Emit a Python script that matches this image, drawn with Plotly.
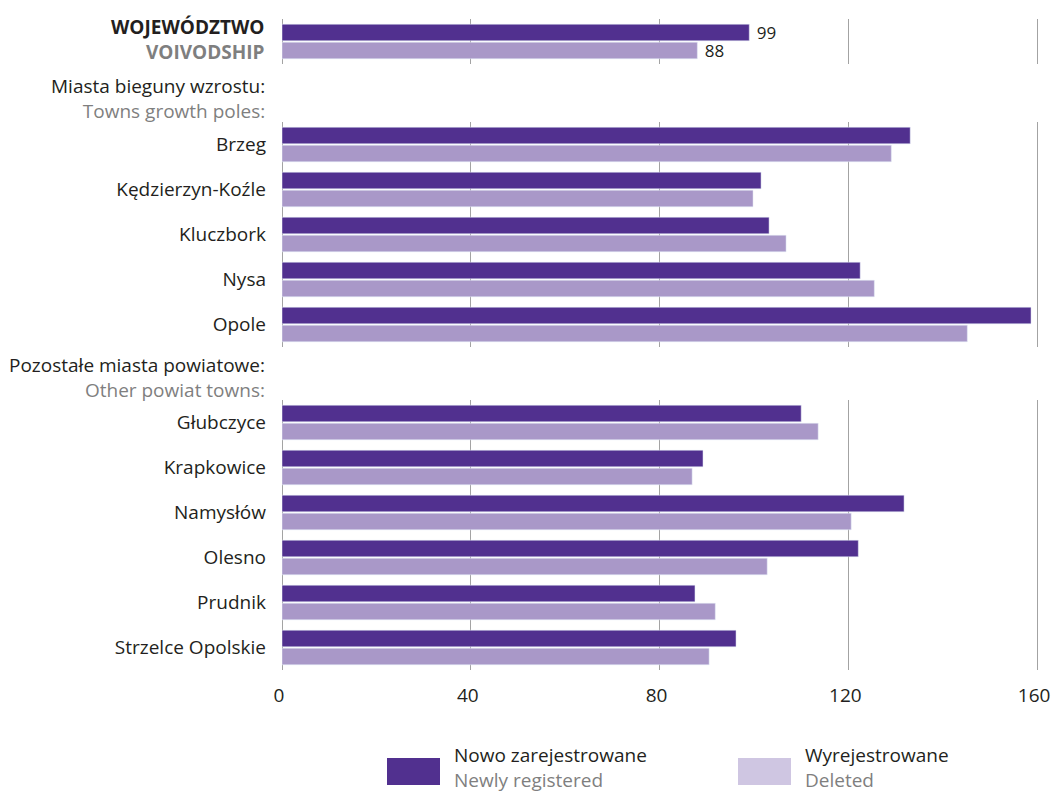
import plotly.graph_objects as go

# Newly registered vs. deleted entities per 1000 population (index values)
voiv_label = "Województwo"
voiv_new = [99]
voiv_del = [88]

poles = ["Brzeg", "Kędzierzyn-Koźle", "Kluczbork", "Nysa", "Opole"]
poles_new = [133.1, 101.5, 103.2, 122.5, 158.7]
poles_del = [129.1, 99.8, 106.8, 125.5, 145.2]

others = ["Głubczyce", "Krapkowice", "Namysłów", "Olesno", "Prudnik", "Strzelce Opolskie"]
others_new = [110.0, 89.2, 131.8, 122.1, 87.5, 96.2]
others_del = [113.6, 86.9, 120.6, 102.8, 91.8, 90.5]

x_ticks = [0, 40, 80, 120, 160]

NEW_COLOR = "#51308f"
DEL_COLOR = "#a998c8"
DEL_LEGEND = "#cfc6e2"
TEXT = "#231f20"
GRAY = "#7f7f7f"
GRID = "#a3a3a3"
FONT = "Open Sans"

W, H = 1051, 792
L, R, T, B = 282, 11, 19, 122
PH = H - T - B
X_MAX = 160.6


def py(px):
    """pixel row -> paper y"""
    return (H - B - px) / PH


def pxx(px):
    """pixel column -> paper x"""
    return (px - L) / (W - L - R)


def two_lines(first, second, bold=False):
    a, b = ("<b>", "</b>") if bold else ("", "")
    return f"{a}{first}{b}<br><span style='color:{GRAY}'>{a}{second}{b}</span>"


fig = go.Figure()

blocks = [
    ([voiv_label], voiv_new, voiv_del, "x", "y"),
    (poles, poles_new, poles_del, "x2", "y2"),
    (others, others_new, others_del, "x3", "y3"),
]
for i, (cats, vnew, vdel, xa, ya) in enumerate(blocks):
    show_text = i == 0
    for vals, col, name in ((vnew, NEW_COLOR, "Nowo zarejestrowane"),
                            (vdel, DEL_COLOR, "Wyrejestrowane")):
        fig.add_trace(go.Bar(
            y=cats, x=vals, orientation="h", marker_color=col,
            xaxis=xa, yaxis=ya, showlegend=False, name=name,
            text=["\u00a0" + f"{v:g}" for v in vals] if show_text else None,
            textposition="outside", cliponaxis=False, constraintext="none",
            textfont=dict(family=FONT, size=17, color=TEXT),
        ))

xaxis_common = dict(
    range=[0, X_MAX], tickvals=x_ticks, showgrid=True, gridcolor=GRID, gridwidth=1,
    zeroline=True, zerolinecolor=GRID, zerolinewidth=1, showline=False,
    fixedrange=True, automargin=False,
)
domains = [
    [py(64), 1.0],
    [py(347), py(122)],
    [0.0, py(400)],
]
yaxis_ticks = dict(showgrid=False, zeroline=False, ticks="", ticklabelstandoff=15,
                   automargin=False,
                   tickfont=dict(family=FONT, size=19, color=TEXT))
fig.update_layout(
    xaxis=dict(**xaxis_common, anchor="y", showticklabels=False),
    xaxis2=dict(**xaxis_common, anchor="y2", matches="x", showticklabels=False),
    xaxis3=dict(**xaxis_common, anchor="y3", matches="x", showticklabels=True,
                ticks="", ticklabelstandoff=12, ticklabelshift=-3,
                ticklabeloverflow="allow",
                tickfont=dict(family=FONT, size=19, color=TEXT)),
    yaxis=dict(domain=domains[0], anchor="x", autorange="reversed",
               showticklabels=False, showgrid=False, zeroline=False),
    yaxis2=dict(domain=domains[1], anchor="x2", autorange="reversed", **yaxis_ticks),
    yaxis3=dict(domain=domains[2], anchor="x3", autorange="reversed", **yaxis_ticks),
    barmode="group", bargap=0.2, bargroupgap=0.08,
    width=W, height=H,
    margin=dict(l=L, r=R, t=T, b=B, pad=0, autoexpand=False),
    plot_bgcolor="white", paper_bgcolor="white",
    font=dict(family=FONT, size=19, color=TEXT),
    showlegend=False,
)

# Left-hand group headers (Polish line, English line in gray)
headers = [
    (two_lines("WOJEWÓDZTWO", "VOIVODSHIP", bold=True), 39),
    (two_lines("Miasta bieguny wzrostu:", "Towns growth poles:"), 99),
    (two_lines("Pozostałe miasta powiatowe:", "Other powiat towns:"), 377),
]
for txt, ypx in headers:
    fig.add_annotation(
        text=txt, xref="paper", yref="paper", x=0, y=py(ypx),
        xshift=-15, xanchor="right", yanchor="middle", align="right",
        showarrow=False, font=dict(family=FONT, size=19, color=TEXT),
    )

# Custom legend below the chart
legend_items = [
    ("Nowo zarejestrowane", "Newly registered", NEW_COLOR, 387, 440, 452),
    ("Wyrejestrowane", "Deleted", DEL_LEGEND, 738, 791, 803),
]
for pl, en, col, x0, x1, xt in legend_items:
    fig.add_shape(
        type="rect", xref="paper", yref="paper",
        x0=pxx(x0), x1=pxx(x1), y0=py(758), y1=py(785),
        fillcolor=col, line_width=0,
    )
    fig.add_annotation(
        text=two_lines(pl, en), xref="paper", yref="paper", x=pxx(xt), y=py(767),
        xanchor="left", yanchor="middle", align="left", showarrow=False,
        font=dict(family=FONT, size=19, color=TEXT),
    )

fig.write_html("out.html")
